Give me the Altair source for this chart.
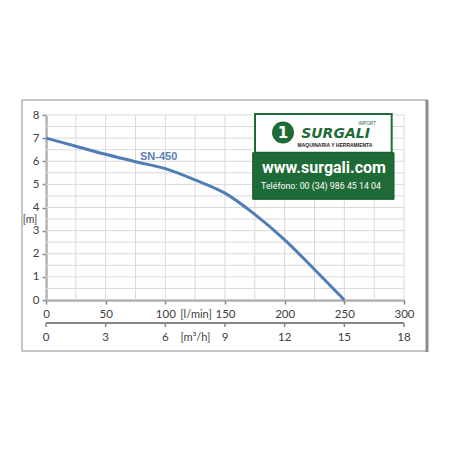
import altair as alt
import pandas as pd

# ---- data ----
flow_lmin = [0, 25, 50, 75, 100, 125, 150, 175, 200, 225, 250]
head_m = [7.0, 6.65, 6.3, 5.98, 5.68, 5.19, 4.62, 3.7, 2.6, 1.32, 0.0]
series_name = "SN-450"
label_pos = [94.4, 6.2]

x_ticks = [0, 50, 100, 150, 200, 250, 300]
m3h_ticks = [0, 3, 6, 9, 12, 15, 18]
y_ticks = [0, 1, 2, 3, 4, 5, 6, 7, 8]
x_grid = list(range(0, 301, 25))
y_grid = [i * 0.5 for i in range(0, 17)]

W, H = 358, 185
GREEN = "#1f6b37"
BLUE = "#4f7db5"
AX = "#868686"
FONT = "Lato"
LBL = "#404040"

xs = alt.Scale(domain=[0, 300], nice=False, zero=False)
ys = alt.Scale(domain=[0, 8], nice=False, zero=False)
one = pd.DataFrame({"d": [0]})

axis_common = dict(
    grid=False, title=None, domainColor=AX, domainWidth=2, tickColor=AX,
    tickSize=4, tickWidth=1.5, labelFont=FONT, labelFontSize=11.5,
    labelColor=LBL, labelFlush=False, labelOverlap=False,
)

frame = alt.Chart(one).mark_rect(fillOpacity=0, stroke="#b4b4b4", strokeWidth=1.5).encode(
    x=alt.value(-24), x2=alt.value(381), y=alt.value(-15), y2=alt.value(236)
)
frame_r = alt.Chart(one).mark_rule(color="#8c8c8c", strokeWidth=3).encode(
    x=alt.value(381), y=alt.value(-15), y2=alt.value(237)
)

gridx = alt.Chart(pd.DataFrame({"g": x_grid})).mark_rule(color="#d9d9d9", strokeWidth=1).encode(
    x=alt.X("g:Q", scale=xs, axis=None), y=alt.value(0), y2=alt.value(H)
)
gridy = alt.Chart(pd.DataFrame({"g": y_grid})).mark_rule(color="#d9d9d9", strokeWidth=1).encode(
    y=alt.Y("g:Q", scale=ys, axis=None), x=alt.value(0), x2=alt.value(W)
)

df = pd.DataFrame({"flow": flow_lmin, "head": head_m})
line = alt.Chart(df).mark_line(color=BLUE, strokeWidth=3, interpolate="monotone").encode(
    x=alt.X("flow:Q", scale=xs, axis=alt.Axis(orient="bottom", values=x_ticks, labelPadding=4, **axis_common)),
    y=alt.Y("head:Q", scale=ys, axis=alt.Axis(orient="left", values=y_ticks, labelPadding=3, **axis_common)),
)

sn = alt.Chart(pd.DataFrame({"x": [label_pos[0]], "y": [label_pos[1]], "t": [series_name]})).mark_text(
    font="Liberation Sans", fontSize=11, fontWeight="bold", color="#5a80b4"
).encode(x=alt.X("x:Q", scale=xs, axis=None), y=alt.Y("y:Q", scale=ys, axis=None), text="t:N")

# secondary axis in m3/h, positioned through the l/min scale (1 m3/h = 1000/60 l/min)
sec_base = alt.Chart(pd.DataFrame({"m": m3h_ticks})).transform_calculate(pos="datum.m * 1000 / 60")
sec_line = alt.Chart(one).mark_rule(color=AX, strokeWidth=2).encode(
    x=alt.value(0), x2=alt.value(W), y=alt.value(H + 23)
)
sec_ticks = sec_base.mark_rule(color=AX, strokeWidth=1.5).encode(
    x=alt.X("pos:Q", scale=xs, axis=None), y=alt.value(H + 23), y2=alt.value(H + 27)
)
sec_labels = sec_base.mark_text(font=FONT, fontSize=11.5, color=LBL, baseline="middle").encode(
    x=alt.X("pos:Q", scale=xs, axis=None), y=alt.value(H + 38), text="m:N"
)

def txt(t, x, y, size, color=LBL, font=FONT, weight="normal", style="normal", align="center"):
    return alt.Chart(pd.DataFrame({"t": [t]})).mark_text(
        font=font, fontSize=size, fontWeight=weight, fontStyle=style, color=color,
        align=align, baseline="middle"
    ).encode(x=alt.value(x), y=alt.value(y), text="t:N")

units = [
    txt("[l/min]", 150, H + 15, 11),
    txt("[m³/h]", 149.5, H + 38, 11),
    txt("[m]", -16, 105, 10.5),
]

logo_white = alt.Chart(one).mark_rect(fill="white", stroke=GREEN, strokeWidth=2).encode(
    x=alt.value(209), x2=alt.value(345.7), y=alt.value(-1), y2=alt.value(37.7)
)
logo_green = alt.Chart(one).mark_rect(fill=GREEN, stroke="#175a2c", strokeWidth=1).encode(
    x=alt.value(206.7), x2=alt.value(348), y=alt.value(37.7), y2=alt.value(84.3)
)
icon = alt.Chart(one).mark_point(filled=True, shape="circle", size=484, color=GREEN, opacity=1).encode(
    x=alt.value(237), y=alt.value(17.5)
)
logo_texts = [
    txt("1", 237, 18, 15, color="white", font="DejaVu Sans", weight="bold"),
    txt("SURGALI", 289.5, 19, 14, color=GREEN, font="DejaVu Sans", weight="bold", style="italic"),
    txt("MAQUINARIA Y HERRAMIENTA", 289, 29.5, 5, color="#222222", font="Liberation Sans", weight="bold"),
    txt("IMPORT", 321, 8.5, 4.5, color=GREEN, font="Liberation Sans", style="italic"),
    txt("www.surgali.com", 278, 53, 16, color="white", font="Roboto", weight="bold"),
    txt("Teléfono: 00 (34) 986 45 14 04", 275, 71, 8.8, color="white", font="Roboto"),
]

chart = alt.layer(
    frame, frame_r, gridx, gridy, line, sn, logo_white, logo_green, icon, *logo_texts,
    sec_line, sec_ticks, sec_labels, *units
).resolve_axis(x="independent", y="independent").properties(
    width=W, height=H,
    autosize=alt.AutoSizeParams(type="none"),
    padding={"left": 38, "top": 107, "right": 40, "bottom": 144},
    background="white",
).configure_view(stroke=None)

chart.save("out.html", embed_options={"renderer": "svg", "actions": False})
